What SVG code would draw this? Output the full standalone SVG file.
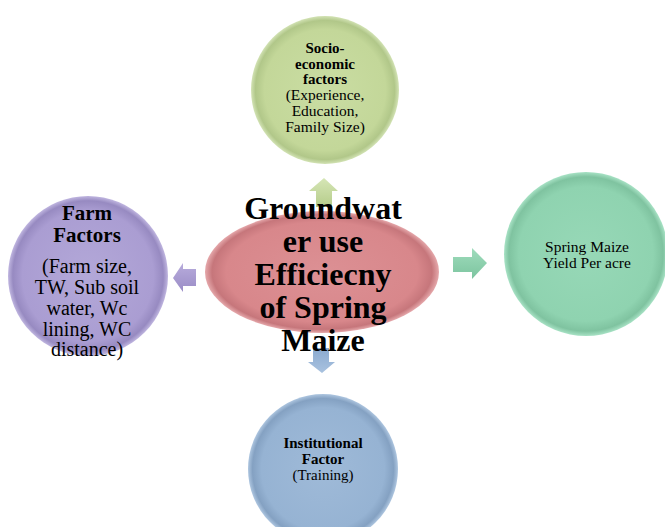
<svg xmlns="http://www.w3.org/2000/svg" width="665" height="527" viewBox="0 0 665 527">
<style>
  text { font-family: "Liberation Serif", "Times New Roman", serif; fill: #000; text-anchor: middle; }
  .b { font-weight: bold; }
</style>
<defs>
  <radialGradient id="gGreen" cx="50%" cy="50%" r="50%">
    <stop offset="0" stop-color="#cadda3"/>
    <stop offset="0.82" stop-color="#c3d799"/>
    <stop offset="0.94" stop-color="#b1c789"/>
    <stop offset="1" stop-color="#d3e3b5"/>
  </radialGradient>
  <radialGradient id="gPurple" cx="50%" cy="50%" r="50%">
    <stop offset="0" stop-color="#b3a8d8"/>
    <stop offset="0.82" stop-color="#aa9dd2"/>
    <stop offset="0.94" stop-color="#978ac1"/>
    <stop offset="1" stop-color="#c0b6e0"/>
  </radialGradient>
  <radialGradient id="gTeal" cx="50%" cy="50%" r="50%">
    <stop offset="0" stop-color="#97d8b7"/>
    <stop offset="0.82" stop-color="#8fd3b0"/>
    <stop offset="0.94" stop-color="#7fc3a0"/>
    <stop offset="1" stop-color="#a8e2c5"/>
  </radialGradient>
  <radialGradient id="gBlue" cx="50%" cy="50%" r="50%">
    <stop offset="0" stop-color="#9fbad8"/>
    <stop offset="0.82" stop-color="#96b3d3"/>
    <stop offset="0.94" stop-color="#84a1c2"/>
    <stop offset="1" stop-color="#aec6e0"/>
  </radialGradient>
  <radialGradient id="gRed" cx="50%" cy="50%" r="50%">
    <stop offset="0" stop-color="#dc9094"/>
    <stop offset="0.82" stop-color="#d8878b"/>
    <stop offset="0.94" stop-color="#c6767b"/>
    <stop offset="1" stop-color="#e5a8ab"/>
  </radialGradient>
  <linearGradient id="aGreen" x1="0" y1="0" x2="0" y2="1">
    <stop offset="0" stop-color="#d6e6b6"/><stop offset="1" stop-color="#b5cc8a"/>
  </linearGradient>
  <linearGradient id="aTeal" x1="0" y1="0" x2="0" y2="1">
    <stop offset="0" stop-color="#9fdcbc"/><stop offset="1" stop-color="#7cc49f"/>
  </linearGradient>
  <linearGradient id="aPurple" x1="0" y1="0" x2="0" y2="1">
    <stop offset="0" stop-color="#b8acdc"/><stop offset="1" stop-color="#9a8cc6"/>
  </linearGradient>
  <linearGradient id="aBlue" x1="0" y1="0" x2="0" y2="1">
    <stop offset="0" stop-color="#8aaad0"/><stop offset="1" stop-color="#a9c2df"/>
  </linearGradient>
</defs>

<g id="connectors">
  <polygon fill="url(#aGreen)" points="324,178 338,191 332,191 332,207 316,207 316,191 309,191"/>
  <polygon fill="url(#aTeal)" points="487,263 472,248 472,257 453,257 453,272 472,272 472,279"/>
  <polygon fill="url(#aPurple)" points="173,278 183,263 183,269 196,269 196,286 183,286 183,292"/>
  <polygon fill="url(#aBlue)" points="322,373 335,362 329,362 329,348 313,348 313,362 308,362"/>
</g>

<g id="socio">
  <circle cx="325" cy="90" r="74" fill="url(#gGreen)"/>
  <text x="325" y="53" font-size="15" class="b">Socio-</text>
  <text x="325" y="69" font-size="15" class="b">economic</text>
  <text x="325" y="84" font-size="15" class="b">factors</text>
  <text x="325" y="100" font-size="15.5">(Experience,</text>
  <text x="325" y="116" font-size="15.5">Education,</text>
  <text x="325" y="132" font-size="15.5">Family Size)</text>
</g>

<g id="farm">
  <circle cx="88" cy="276" r="80" fill="url(#gPurple)"/>
  <text x="87" y="220" font-size="21" class="b">Farm</text>
  <text x="87" y="242" font-size="21" class="b">Factors</text>
  <text x="87" y="273" font-size="20">(Farm size,</text>
  <text x="87" y="294" font-size="20">TW, Sub soil</text>
  <text x="87" y="315" font-size="20">water, Wc</text>
  <text x="87" y="336" font-size="20">lining, WC</text>
  <text x="87" y="356" font-size="20">distance)</text>
</g>

<g id="yield">
  <circle cx="586" cy="254" r="82" fill="url(#gTeal)"/>
  <text x="587" y="252" font-size="15.5">Spring Maize</text>
  <text x="587" y="268" font-size="15.5">Yield Per acre</text>
</g>

<g id="institutional">
  <circle cx="323" cy="469" r="75" fill="url(#gBlue)"/>
  <text x="323" y="448" font-size="15" class="b">Institutional</text>
  <text x="323" y="464" font-size="15" class="b">Factor</text>
  <text x="323" y="480" font-size="15">(Training)</text>
</g>

<g id="center">
  <ellipse cx="322" cy="272" rx="117" ry="61" fill="url(#gRed)"/>
  <text x="323" y="219" font-size="32" class="b">Groundwat</text>
  <text x="323" y="252" font-size="32" class="b">er use</text>
  <text x="323" y="285" font-size="32" class="b">Efficiecny</text>
  <text x="323" y="318" font-size="32" class="b">of Spring</text>
  <text x="323" y="351" font-size="32" class="b">Maize</text>
</g>
</svg>
